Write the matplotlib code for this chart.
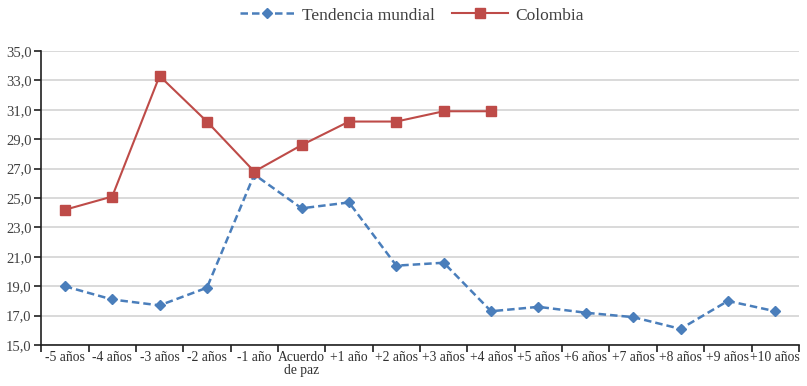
import numpy as np
import matplotlib
matplotlib.use("Agg")
import matplotlib.pyplot as plt

plt.rcParams['font.family'] = ['Liberation Serif', 'DejaVu Serif']

# ── DATA ──────────────────────────────────────────────
categories = ['-5 años', '-4 años', '-3 años', '-2 años', '-1 año',
              'Acuerdo\nde paz', '+1 año', '+2 años', '+3 años', '+4 años',
              '+5 años', '+6 años', '+7 años', '+8 años', '+9 años', '+10 años']
tendencia = [19.0, 18.1, 17.7, 18.9, 26.6, 24.3, 24.7, 20.4, 20.6, 17.3,
             17.6, 17.2, 16.9, 16.1, 18.0, 17.3]
colombia = [24.2, 25.1, 33.3, 30.2, 26.8, 28.6, 30.2, 30.2, 30.9, 30.9]
yticks = np.arange(15, 36, 2)

BLUE = '#4a7ebb'
RED = '#be4b48'

# ── PLOT ──────────────────────────────────────────────
fig = plt.figure(figsize=(8.07, 3.86), dpi=100)
ax = fig.add_axes([0.051, 0.106, 0.939, 0.762])

x = np.arange(len(categories))
ax.plot(x, tendencia, color=BLUE, ls=(0, (3, 1.6)), lw=1.8, marker='D',
        ms=5.5, label='Tendencia mundial')
ax.plot(x[:len(colombia)], colombia, color=RED, lw=1.5, marker='s',
        ms=6.5, label='Colombia')

ax.set_xlim(-0.5, len(categories) - 0.5)
ax.set_ylim(15, 35)
ax.set_yticks(yticks)
ax.set_yticklabels([f'{v:.1f}'.replace('.', ',') for v in yticks],
                   fontsize=10.5, color='#404040')
ax.yaxis.grid(True, color='#d0d0d0', lw=1.1)
ax.set_axisbelow(True)

# category boundaries get the tick marks, labels sit in the middle
ax.set_xticks(np.arange(-0.5, len(categories), 1))
ax.set_xticklabels([])
ax.set_xticks(x, minor=True)
ax.set_xticklabels(categories, minor=True, fontsize=9.8, color='#303030',
                   linespacing=1.05)
ax.tick_params(axis='x', which='minor', length=0, pad=4)
ax.tick_params(axis='x', which='major', length=5, width=1.2, color='#202020')
ax.tick_params(axis='y', length=5, width=1.2, color='#202020', pad=2)

for s in ['top', 'right']:
    ax.spines[s].set_visible(False)
for s in ['left', 'bottom']:
    ax.spines[s].set_color('#202020')
    ax.spines[s].set_linewidth(1.2)

fig.legend(loc='center', bbox_to_anchor=(0.51, 0.96), ncol=2, frameon=False,
           fontsize=12.5, handlelength=3.2, columnspacing=1.0,
           handletextpad=0.4, labelcolor='#404040')

plt.savefig('out.png', dpi=100)
plt.close()
